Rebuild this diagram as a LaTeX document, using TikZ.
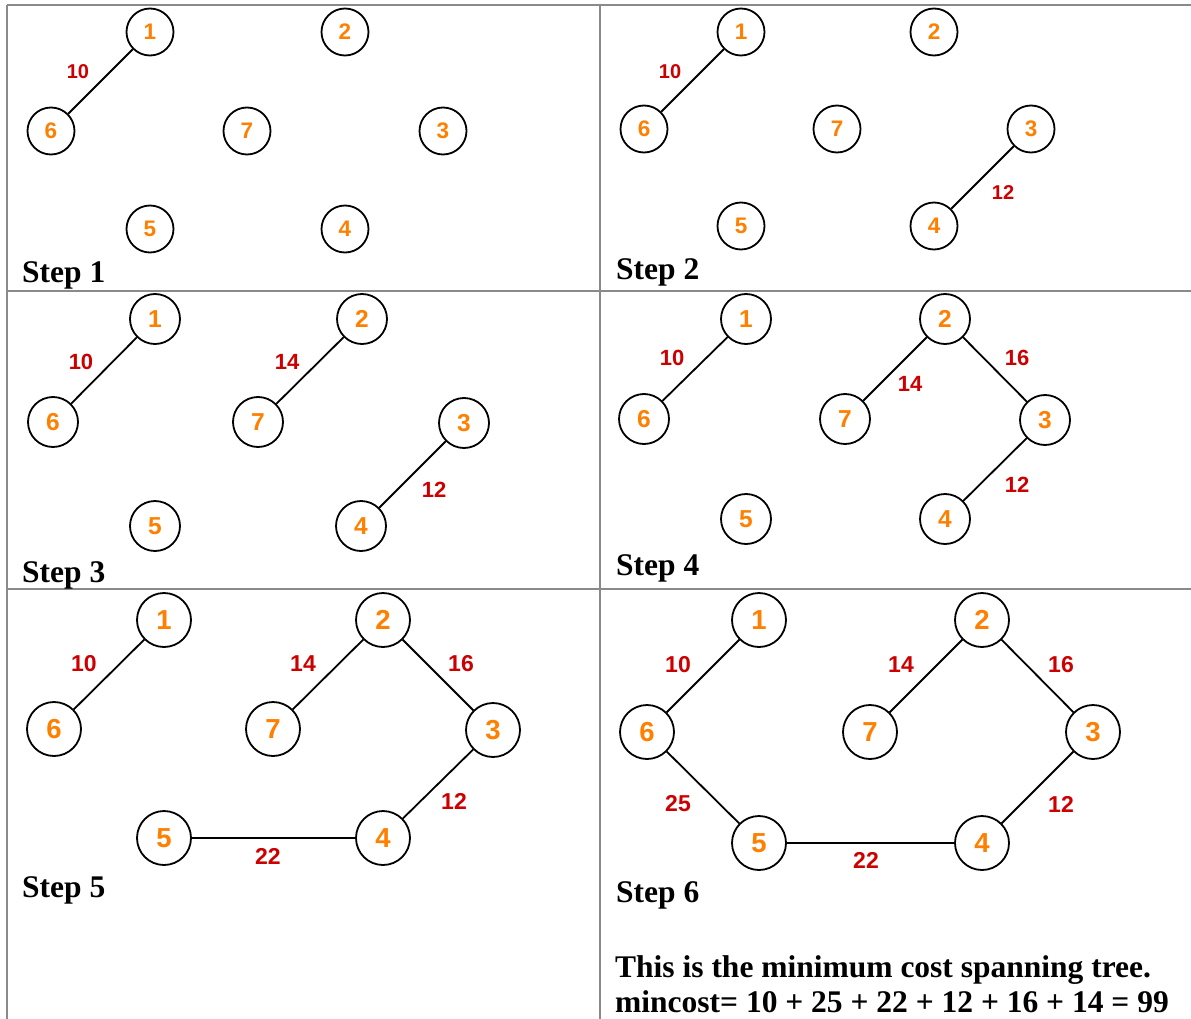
\documentclass[tikz,border=0pt]{standalone}
\usepackage{fontspec}
\setmainfont{Liberation Serif}
\newfontfamily\arialfont{Liberation Sans}
\definecolor{nodeor}{HTML}{FF8000}
\definecolor{wred}{HTML}{CC0000}
\definecolor{gridg}{HTML}{8A8A8A}
\begin{document}
\begin{tikzpicture}[x=1pt,y=-1pt,
  vbase/.style={circle,draw=black,line width=1.8pt,inner sep=0pt,text=nodeor},
  vA/.style={vbase,minimum size=47pt,font=\arialfont\bfseries\fontsize{22.5}{22.5}\selectfont},
  vB/.style={vbase,minimum size=50pt,font=\arialfont\bfseries\fontsize{24.5}{24.5}\selectfont},
  vC/.style={vbase,minimum size=54pt,font=\arialfont\bfseries\fontsize{27.5}{27.5}\selectfont},
  wA/.style={text=wred,inner sep=0pt,font=\arialfont\bfseries\fontsize{20}{20}\selectfont},
  wB/.style={text=wred,inner sep=0pt,font=\arialfont\bfseries\fontsize{22}{22}\selectfont},
  wC/.style={text=wred,inner sep=0pt,font=\arialfont\bfseries\fontsize{23}{23}\selectfont},
  edge/.style={draw=black,line width=1.8pt},
  steplbl/.style={anchor=base west,inner sep=0pt,font=\bfseries\fontsize{31.5}{36}\selectfont},
  gridline/.style={draw=gridg,line width=1.5pt}
]
\useasboundingbox (0,0) rectangle (1191,1019);
% table grid
\coordinate (gTL) at (7,5);
\coordinate (gTR) at (1191,5);
\coordinate (gBL) at (7,1019);
\coordinate (gTM) at (600,5);
\coordinate (gBM) at (600,1019);
\coordinate (gR1L) at (7,291);
\coordinate (gR1R) at (1191,291);
\coordinate (gR2L) at (7,589);
\coordinate (gR2R) at (1191,589);
\draw[gridline] (gTL) -- (gTR);
\draw[gridline] (gTL) -- (gBL);
\draw[gridline] (gTM) -- (gBM);
\draw[gridline] (gR1L) -- (gR1R);
\draw[gridline] (gR2L) -- (gR2R);

% ---------- Step 1 ----------
\node[vA] (a1) at (150,32) {1};
\node[vA] (a2) at (345,32) {2};
\node[vA] (a6) at (51,131) {6};
\node[vA] (a7) at (247,131) {7};
\node[vA] (a3) at (443,131) {3};
\node[vA] (a5) at (150,229) {5};
\node[vA] (a4) at (345,229) {4};
\draw[edge] (a1) -- (a6);
\node[wA] (aw10) at (78,72) {10};
\node[steplbl] (as) at (22,282) {Step 1};

% ---------- Step 2 ----------
\node[vA] (b1) at (741,32) {1};
\node[vA] (b2) at (934,32) {2};
\node[vA] (b6) at (644,129) {6};
\node[vA] (b7) at (837,129) {7};
\node[vA] (b3) at (1031,129) {3};
\node[vA] (b5) at (741,226) {5};
\node[vA] (b4) at (934,226) {4};
\draw[edge] (b1) -- (b6);
\draw[edge] (b3) -- (b4);
\node[wA] (bw10) at (670,72) {10};
\node[wA] (bw12) at (1003,193) {12};
\node[steplbl] (bs) at (616,279) {Step 2};

% ---------- Step 3 ----------
\node[vB] (c1) at (155,319) {1};
\node[vB] (c2) at (362,319) {2};
\node[vB] (c6) at (53,422) {6};
\node[vB] (c7) at (258,422) {7};
\node[vB] (c3) at (464,423) {3};
\node[vB] (c5) at (155,526) {5};
\node[vB] (c4) at (361,526) {4};
\draw[edge] (c1) -- (c6);
\draw[edge] (c2) -- (c7);
\draw[edge] (c3) -- (c4);
\node[wB] (cw10) at (81,362) {10};
\node[wB] (cw14) at (287,362) {14};
\node[wB] (cw12) at (434,490) {12};
\node[steplbl] (cs) at (22,582) {Step 3};

% ---------- Step 4 ----------
\node[vB] (d1) at (746,319) {1};
\node[vB] (d2) at (945,319) {2};
\node[vB] (d6) at (644,419) {6};
\node[vB] (d7) at (845,419) {7};
\node[vB] (d3) at (1045,420) {3};
\node[vB] (d5) at (746,519) {5};
\node[vB] (d4) at (945,519) {4};
\draw[edge] (d1) -- (d6);
\draw[edge] (d2) -- (d7);
\draw[edge] (d2) -- (d3);
\draw[edge] (d3) -- (d4);
\node[wB] (dw10) at (672,358) {10};
\node[wB] (dw14) at (910,384) {14};
\node[wB] (dw16) at (1017,358) {16};
\node[wB] (dw12) at (1017,485) {12};
\node[steplbl] (ds) at (616,575) {Step 4};

% ---------- Step 5 ----------
\node[vC] (e1) at (164,620) {1};
\node[vC] (e2) at (383,620) {2};
\node[vC] (e6) at (54,729) {6};
\node[vC] (e7) at (273,729) {7};
\node[vC] (e3) at (493,730) {3};
\node[vC] (e5) at (164,838) {5};
\node[vC] (e4) at (383,838) {4};
\draw[edge] (e1) -- (e6);
\draw[edge] (e2) -- (e7);
\draw[edge] (e2) -- (e3);
\draw[edge] (e3) -- (e4);
\draw[edge] (e5) -- (e4);
\node[wC] (ew10) at (84,664) {10};
\node[wC] (ew14) at (303,664) {14};
\node[wC] (ew16) at (461,664) {16};
\node[wC] (ew12) at (454,801) {12};
\node[wC] (ew22) at (268,856) {22};
\node[steplbl] (es) at (22,897) {Step 5};

% ---------- Step 6 ----------
\node[vC] (f1) at (759,620) {1};
\node[vC] (f2) at (982,620) {2};
\node[vC] (f6) at (647,732) {6};
\node[vC] (f7) at (870,732) {7};
\node[vC] (f3) at (1093,732) {3};
\node[vC] (f5) at (759,843) {5};
\node[vC] (f4) at (982,843) {4};
\draw[edge] (f1) -- (f6);
\draw[edge] (f2) -- (f7);
\draw[edge] (f2) -- (f3);
\draw[edge] (f3) -- (f4);
\draw[edge] (f5) -- (f4);
\draw[edge] (f6) -- (f5);
\node[wC] (fw10) at (678,665) {10};
\node[wC] (fw14) at (901,665) {14};
\node[wC] (fw16) at (1061,665) {16};
\node[wC] (fw25) at (678,804) {25};
\node[wC] (fw12) at (1061,804) {12};
\node[wC] (fw22) at (866,860) {22};
\node[steplbl] (fs) at (616,902) {Step 6};
\node[steplbl] (ft1) at (615,977) {This is the minimum cost spanning tree.};
\node[steplbl] (ft2) at (615,1012) {mincost= 10 + 25 + 22 + 12 + 16 + 14 = 99};
\end{tikzpicture}
\end{document}
